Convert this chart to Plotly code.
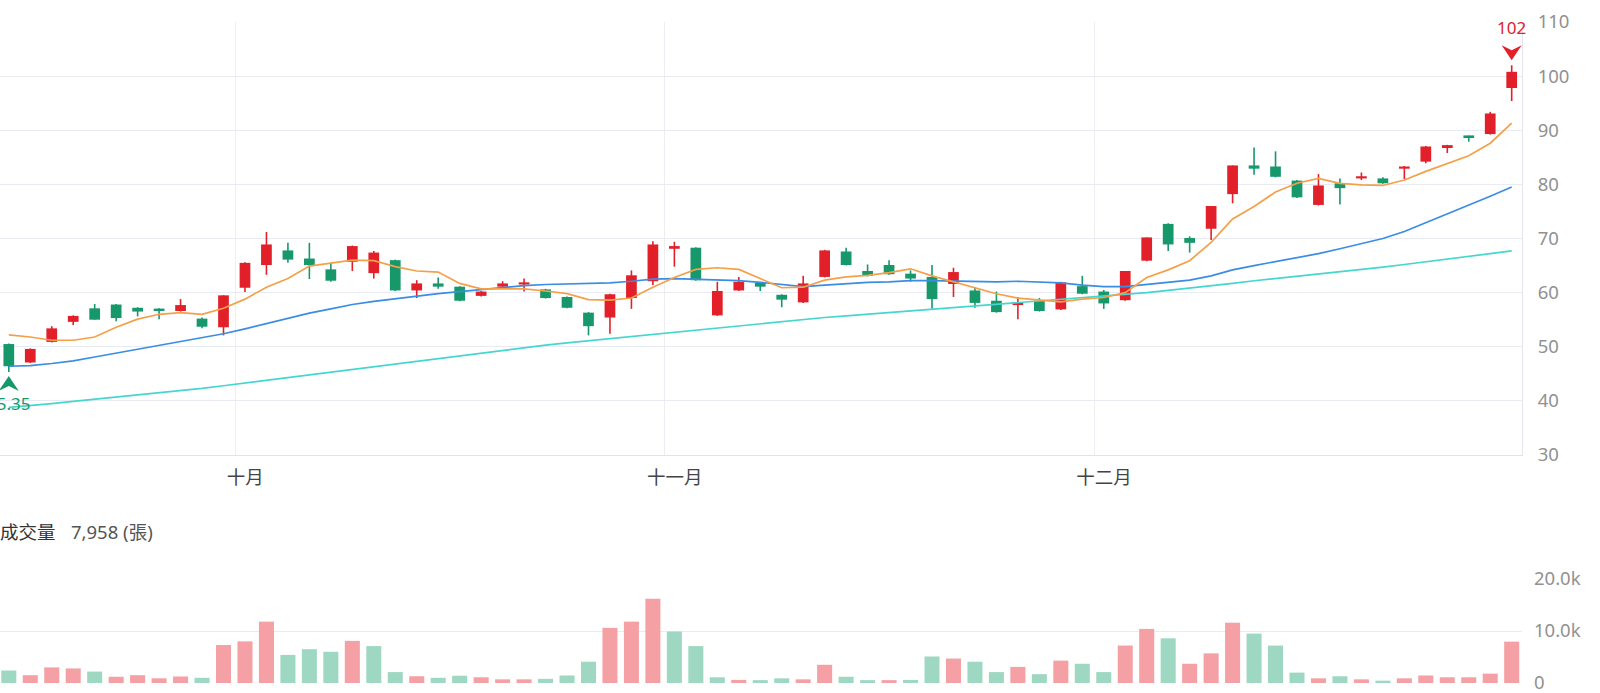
import plotly.graph_objects as go

# ---------------- data ----------------
opens = [50.5, 47.1, 50.9, 54.6, 57.1, 57.8, 57.2, 57.0, 56.6, 55.2,
         53.6, 60.9, 65.1, 67.8, 66.3, 64.3, 65.7, 63.6, 66.0, 60.4,
         61.7, 61.1, 59.4, 61.1, 61.5, 60.6, 59.2, 56.3, 55.4, 59.0,
         62.1, 68.1, 68.3, 55.8, 60.4, 61.8, 59.6, 58.2, 62.9, 67.6,
         64.0, 65.1, 63.5, 62.9, 61.6, 60.4, 58.5, 57.7, 58.5, 56.9,
         61.2, 60.2, 58.6, 65.9, 72.7, 70.1, 71.8, 78.2, 83.5, 83.3,
         80.7, 76.2, 80.2, 81.1, 81.1, 82.9, 84.2, 86.9, 89.0, 89.3,
         97.8]
highs = [50.6, 49.7, 53.8, 55.8, 57.9, 57.9, 57.3, 57.1, 58.8, 55.4,
         59.5, 65.6, 71.2, 69.2, 69.2, 65.5, 68.7, 67.7, 66.1, 62.3,
         62.8, 61.2, 60.3, 62.1, 62.6, 60.7, 59.3, 56.4, 59.8, 64.1,
         69.5, 69.4, 68.4, 62.0, 62.9, 61.9, 59.7, 63.1, 67.9, 68.3,
         65.2, 66.0, 64.1, 65.1, 64.6, 61.0, 60.2, 59.2, 59.0, 62.0,
         63.1, 60.5, 64.0, 70.2, 72.8, 70.4, 76.0, 83.5, 86.8, 86.1,
         80.8, 81.9, 81.1, 82.2, 81.3, 83.4, 87.1, 87.3, 89.0, 93.4,
         102.0]
lows = [45.35, 47.0, 50.8, 54.0, 55.0, 54.7, 55.6, 55.1, 56.5, 53.4,
        52.1, 60.1, 63.3, 65.5, 62.5, 62.0, 64.0, 62.6, 60.3, 59.0,
        60.7, 58.4, 59.3, 61.0, 60.2, 58.9, 57.1, 52.1, 52.4, 57.0,
        61.4, 64.8, 62.2, 55.7, 60.3, 60.3, 57.3, 58.1, 62.8, 65.0,
        63.0, 63.3, 62.0, 57.0, 59.2, 57.2, 56.3, 55.1, 56.5, 56.8,
        59.7, 57.0, 58.5, 65.8, 67.7, 67.4, 69.7, 76.5, 81.8, 81.3,
        77.5, 76.1, 76.3, 80.8, 80.1, 81.0, 83.9, 85.8, 87.9, 89.2,
        95.4]
closes = [46.4, 49.6, 53.4, 55.7, 55.0, 55.3, 56.5, 56.7, 57.7, 53.7,
          59.5, 65.5, 68.9, 66.1, 65.1, 62.2, 68.6, 67.4, 60.4, 61.7,
          61.1, 58.5, 60.2, 61.7, 61.9, 59.0, 57.2, 53.8, 59.7, 63.2,
          68.9, 68.6, 62.3, 60.3, 62.0, 61.1, 58.7, 61.7, 67.8, 65.1,
          63.1, 63.4, 62.6, 58.8, 63.8, 58.1, 56.4, 58.2, 56.6, 61.9,
          59.8, 58.0, 64.0, 70.2, 68.9, 69.2, 76.0, 83.5, 82.9, 81.4,
          77.6, 79.8, 79.3, 81.5, 80.2, 83.3, 87.0, 87.2, 88.7, 93.1,
          100.8]
volumes = [2400, 1500, 3000, 2800, 2200, 1200, 1500, 900, 1250, 1000,
           7300, 8000, 11800, 5400, 6500, 6000, 8100, 7100, 2100, 1300,
           1000, 1400, 1100, 700, 700, 800, 1450, 4100, 10600, 11800,
           16200, 9900, 7100, 1100, 600, 550, 900, 700, 3500, 1200,
           550, 550, 600, 5100, 4700, 4100, 2100, 3100, 1700, 4300,
           3700, 2100, 7200, 10400, 8600, 3700, 5700, 11600, 9500, 7200,
           2000, 900, 1300, 700, 450, 900, 1450, 1100, 1100, 1800,
           7958]
ma5 = [52.2, 51.8, 51.2, 51.2, 51.8, 53.6, 55.1, 56.0, 56.3, 56.0,
       57.1, 58.8, 61.0, 62.6, 64.9, 65.5, 66.0, 65.9, 64.8, 64.0,
       63.8, 61.7, 60.7, 60.7, 60.7, 60.3, 59.8, 58.7, 58.6, 59.0,
       61.0, 62.8, 64.3, 64.6, 64.3, 62.6, 60.9, 61.0, 62.3, 62.9,
       63.2, 63.7, 64.4, 63.1, 62.0, 60.8, 59.8, 59.0, 58.6, 58.3,
       58.8, 59.1, 60.0, 62.8, 64.2, 65.9, 69.3, 73.6, 75.9, 78.6,
       80.2, 81.1, 80.2, 79.9, 79.8, 80.8, 82.4, 83.9, 85.3, 87.6,
       91.3]
ma20 = [46.4, 46.5, 46.9, 47.4, 48.1, 48.8, 49.5, 50.2, 50.9, 51.6,
        52.4, 53.3, 54.3, 55.3, 56.2, 57.0, 57.8, 58.4, 58.9, 59.3,
        59.8, 60.2, 60.6, 61.0, 61.3, 61.5, 61.6, 61.7, 61.8, 62.1,
        62.5, 62.6, 62.5, 62.4, 62.2, 61.9, 61.5, 61.1, 61.4, 61.7,
        61.9, 62.0, 62.2, 62.2, 62.1, 62.1, 62.0, 62.1, 62.0, 61.8,
        61.4, 61.1, 61.1, 61.5, 61.9, 62.3, 63.1, 64.2, 65.0, 65.7,
        66.4, 67.2, 68.1, 69.0, 70.0, 71.3, 72.9, 74.5, 76.1, 77.8,
        79.5]
ma60 = [38.8, 39.1, 39.5, 39.9, 40.3, 40.6, 41.0, 41.4, 41.8, 42.3,
        42.8, 43.3, 43.8, 44.3, 44.8, 45.3, 45.8, 46.3, 46.8, 47.3,
        47.8, 48.3, 48.9, 49.4, 49.9, 50.3, 50.7, 51.1, 51.5, 51.9,
        52.3, 52.7, 53.1, 53.5, 53.9, 54.3, 54.7, 55.1, 55.4, 55.7,
        56.0, 56.3, 56.6, 56.9, 57.2, 57.5, 57.8, 58.1, 58.4, 58.7,
        59.0, 59.3, 59.6, 60.0, 60.4, 60.8, 61.2, 61.7, 62.2, 62.6,
        63.1, 63.5, 63.9, 64.3, 64.7, 65.2, 65.7, 66.2, 66.7, 67.2,
        67.7]
month_labels = ["十月", "十一月", "十二月"]
month_first_bar = [11, 31, 51]
price_ticks = [30, 40, 50, 60, 70, 80, 90, 100, 110]
vol_tickvals = [0, 10000, 20000]
vol_ticktext = ["0", "10.0k", "20.0k"]

# ---------------- styling ----------------
RED = "#e2202a"
GREEN = "#17986b"
RED_VOL = "#f4a0a4"
GREEN_VOL = "#9ed8c3"
GRID = "#e8ebf3"
FONT = "Noto Sans, Noto Sans CJK TC, sans-serif"
PLOT_W = 1522
XR = [-0.41, 70.48]
PX_PER_BAR = PLOT_W / (XR[1] - XR[0])

n = len(closes)
xs = list(range(n))
up = [closes[i] >= opens[i] for i in xs]

fig = go.Figure()

# candle bodies
for is_up, col in [(True, RED), (False, GREEN)]:
    idx = [i for i in xs if up[i] == is_up]
    fig.add_trace(go.Bar(
        x=idx,
        base=[min(opens[i], closes[i]) for i in idx],
        y=[max(abs(closes[i] - opens[i]), 0.35) for i in idx],
        width=0.5, marker=dict(color=col, line=dict(width=0)),
        xaxis="x", yaxis="y", hoverinfo="skip"))

# wicks
for is_up, col in [(True, RED), (False, GREEN)]:
    wx, wy = [], []
    for i in xs:
        if up[i] == is_up:
            wx += [i, i, None]
            wy += [lows[i], highs[i], None]
    fig.add_trace(go.Scatter(x=wx, y=wy, mode="lines",
                             line=dict(color=col, width=1.6),
                             xaxis="x", yaxis="y", hoverinfo="skip"))

# moving averages
for vals, col in [(ma60, "#45d6cf"), (ma20, "#3a8de3"), (ma5, "#f5a049")]:
    fig.add_trace(go.Scatter(x=xs, y=vals, mode="lines",
                             line=dict(color=col, width=1.7),
                             xaxis="x", yaxis="y", hoverinfo="skip"))

# volume
vol_up = [closes[0] >= opens[0]] + [closes[i] > closes[i - 1] for i in xs[1:]]
fig.add_trace(go.Bar(
    x=xs, y=volumes, width=0.7,
    marker=dict(color=[RED_VOL if u else GREEN_VOL for u in vol_up], line=dict(width=0)),
    xaxis="x2", yaxis="y2", hoverinfo="skip"))

# high / low markers: notched arrow heads (pixel-sized shapes anchored on data) + labels
hi_i = max(xs, key=lambda i: highs[i])
lo_i = min(xs, key=lambda i: lows[i])
shapes = [
    dict(type="path", xref="x", yref="y", xsizemode="pixel", ysizemode="pixel",
         xanchor=hi_i, yanchor=highs[hi_i],
         path="M-10,20 L0,5 L10,20 L0,15 Z",
         fillcolor=RED, line=dict(width=0), layer="above"),
    dict(type="path", xref="x", yref="y", xsizemode="pixel", ysizemode="pixel",
         xanchor=lo_i, yanchor=lows[lo_i],
         path="M-10,-19 L0,-4 L10,-19 L0,-14 Z",
         fillcolor=GREEN, line=dict(width=0), layer="above"),
]
ann = []
ann.append(dict(x=hi_i, y=highs[hi_i], xref="x", yref="y",
                text=f"{highs[hi_i]:g}", showarrow=False, yshift=38,
                font=dict(size=17, color=RED, family=FONT)))
ann.append(dict(x=lo_i, y=lows[lo_i], xref="x", yref="y",
                text=f"{lows[lo_i]:g}", showarrow=False, yshift=-32,
                font=dict(size=17, color=GREEN, family=FONT)))
# volume title
ann.append(dict(x=-2 / PLOT_W, y=(683 - 531) / 683, xref="paper", yref="paper",
                xanchor="left", yanchor="middle", text="成交量", showarrow=False,
                font=dict(size=18.5, color="#333333", family=FONT)))
ann.append(dict(x=69 / PLOT_W, y=(683 - 531) / 683, xref="paper", yref="paper",
                xanchor="left", yanchor="middle", text=f"{volumes[-1]:,} (張)",
                showarrow=False, font=dict(size=18.5, color="#555555", family=FONT)))

fig.update_layout(
    width=1600, height=693,
    margin=dict(l=0, r=1600 - PLOT_W, t=0, b=10, autoexpand=False),
    paper_bgcolor="white", plot_bgcolor="white",
    showlegend=False, barmode="overlay",
    font=dict(family=FONT, size=18.5, color="#919191"),
    annotations=ann, shapes=shapes,
    xaxis=dict(domain=[0, 1], range=XR, anchor="y", automargin=False,
               tickvals=[b - 0.45 for b in month_first_bar], ticktext=month_labels,
               ticklabelshift=int(round(0.45 * PX_PER_BAR)), ticklabelstandoff=6,
               showgrid=True, gridcolor="#eceef4", gridwidth=1,
               zeroline=False, showline=True, linecolor="#e0e3eb", ticks="",
               tickfont=dict(color="#444444", size=18.5, family=FONT)),
    yaxis=dict(domain=[(683 - 455) / 683, (683 - 22) / 683], range=[30, 110],
               anchor="x", side="right", tickvals=price_ticks, automargin=False,
               showgrid=True, gridcolor=GRID, zeroline=False,
               showline=True, linecolor="#e3e6ee", ticks="", ticklabelstandoff=11),
    xaxis2=dict(domain=[0, 1], range=XR, anchor="y2", showticklabels=False,
                automargin=False,
                showgrid=False, zeroline=False, showline=False, ticks=""),
    yaxis2=dict(domain=[0, (683 - 579) / 683], range=[0, 20000], anchor="x2",
                side="right", tickvals=vol_tickvals, ticktext=vol_ticktext,
                automargin=False, ticklabeloverflow="allow",
                showgrid=True, gridcolor=GRID, zeroline=False, showline=False,
                ticks="", ticklabelstandoff=11),
)

fig.write_html("out.html")
